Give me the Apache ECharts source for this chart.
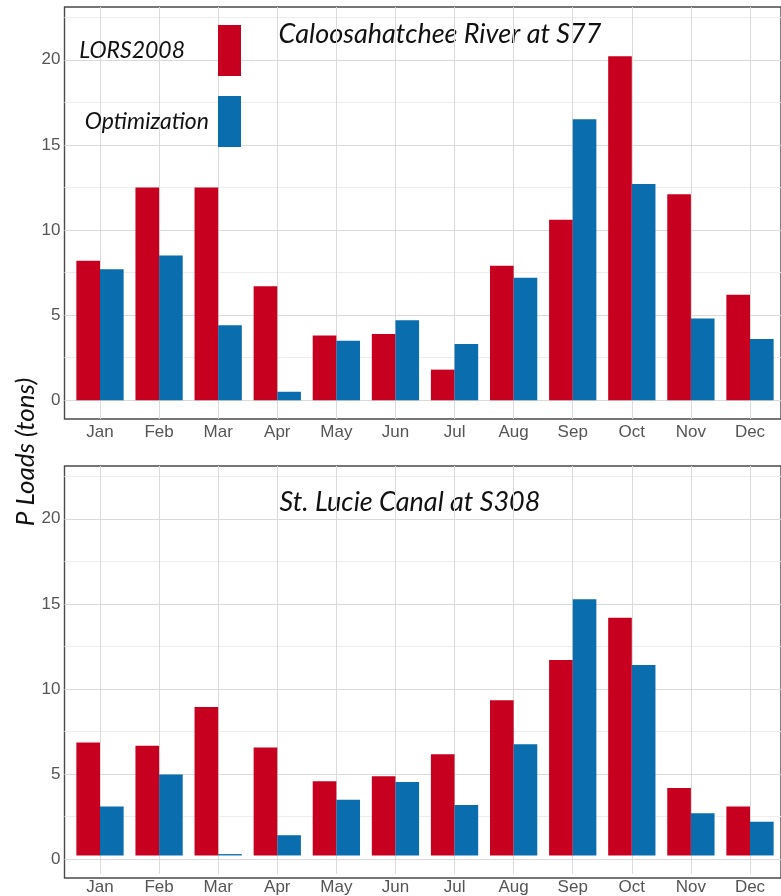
<!DOCTYPE html>
<html>
<head>
<meta charset="utf-8">
<script src="https://cdn.jsdelivr.net/npm/echarts@6/dist/echarts.min.js"></script>
<style>html,body{margin:0;padding:0;background:#fff}#c{width:781px;height:896px}</style>
</head>
<body>
<div id="c"></div>
<script>
// ---- data ----
const months = ['Jan','Feb','Mar','Apr','May','Jun','Jul','Aug','Sep','Oct','Nov','Dec'];
const s77Lors2008 = [8.2, 12.5, 12.5, 6.7, 3.8, 3.9, 1.8, 7.9, 10.6, 20.2, 12.1, 6.2];
const s77Optimization = [7.7, 8.5, 4.4, 0.5, 3.5, 4.7, 3.3, 7.2, 16.5, 12.7, 4.8, 3.6];
const s308Lors2008 = [6.7, 6.5, 8.8, 6.4, 4.4, 4.7, 6.0, 9.2, 11.6, 14.1, 4.0, 2.9];
const s308Optimization = [2.9, 4.8, 0.08, 1.2, 3.3, 4.35, 3.0, 6.6, 15.2, 11.3, 2.5, 2.0];
const yTickLabels = [0, 5, 10, 15, 20];
const seriesNames = ['LORS2008', 'Optimization'];
const panelTitles = ['Caloosahatchee River at S77', 'St. Lucie Canal at S308'];
const yTitle = 'P Loads (tons)';

// ---- styling / layout ----
const RED = '#C8001F', BLUE = '#0A6DAE';
const yLimit = 22, yPad = yLimit * 0.05;         // ggplot-like 5% expansion
const pxPerUnit = 412 / (yLimit + 2 * yPad);
const panels = [{top: 7}, {top: 466}];
const frameLeft = 64.5, frameWidth = 721, frameHeight = 412;
const barLeft = 100, barWidthSpan = 650;
const labelFont = 'Liberation Sans';
const textFont = 'Lato';

const grid = [], xAxis = [], yAxis = [], series = [];
const dataSets = [[s77Lors2008, s77Optimization], [s308Lors2008, s308Optimization]];

panels.forEach((p, i) => {
  const zeroY = p.top + frameHeight - yPad * pxPerUnit;
  const gridTopH = zeroY - 22.5 * pxPerUnit;
  const base = grid.length;
  // frame
  grid.push({left: frameLeft, top: p.top, width: frameWidth, height: frameHeight,
    show: true, borderColor: '#4a4a4a', borderWidth: 1.4, backgroundColor: 'transparent', containLabel: false});
  xAxis.push({gridIndex: base, type: 'value', show: false});
  yAxis.push({gridIndex: base, type: 'value', show: false});
  // horizontal gridlines + y labels
  grid.push({left: frameLeft, top: gridTopH, width: frameWidth, height: 22.5 * pxPerUnit, containLabel: false});
  xAxis.push({gridIndex: base + 1, type: 'value', show: false});
  yAxis.push({gridIndex: base + 1, type: 'value', min: 0, max: 22.5, interval: 2.5,
    axisLine: {show: false}, axisTick: {show: false},
    axisLabel: {color: '#555', fontSize: 17, fontFamily: labelFont, margin: 4,
      formatter: v => (yTickLabels.indexOf(v) >= 0 ? String(v) : '')},
    splitLine: {show: true, lineStyle: {color: ['#dadada', '#ededed'], width: 1}}});
  // bars + vertical gridlines + x labels
  grid.push({left: barLeft, top: p.top, width: barWidthSpan, height: frameHeight, containLabel: false});
  xAxis.push({gridIndex: base + 2, type: 'category', data: months, boundaryGap: false,
    axisLine: {show: false}, axisTick: {show: false},
    axisLabel: {interval: 0, color: '#555', fontSize: 17, fontFamily: labelFont, margin: 5},
    splitLine: {show: true, interval: 0, lineStyle: {color: '#dadada', width: 1}}});
  yAxis.push({gridIndex: base + 2, type: 'value', min: -yPad, max: yLimit + yPad, show: false,
    splitLine: {show: false}});
  [RED, BLUE].forEach((col, j) => {
    series.push({type: 'bar', name: seriesNames[j], xAxisIndex: base + 2, yAxisIndex: base + 2,
      data: dataSets[i][j], barGap: '0%', barCategoryGap: '20%', clip: false,
      itemStyle: {color: col}, emphasis: {disabled: true}, z: 3});
  });
});

const chart = echarts.init(document.getElementById('c'), null, {renderer: 'canvas'});
chart.setOption({
  animation: false,
  backgroundColor: '#fff',
  grid, xAxis, yAxis, series,
  legend: [
    {data: [seriesNames[0]], orient: 'vertical', right: 781 - 241, top: 25, padding: 0,
      itemWidth: 23, itemHeight: 51, align: 'right', icon: 'rect', selectedMode: false,
      textStyle: {fontStyle: 'italic', fontFamily: textFont, fontSize: 23, color: '#111', padding: [12, 28, 0, 0]}},
    {data: [seriesNames[1]], orient: 'vertical', right: 781 - 241, top: 96, padding: 0,
      itemWidth: 23, itemHeight: 51, align: 'right', icon: 'rect', selectedMode: false,
      textStyle: {fontStyle: 'italic', fontFamily: textFont, fontSize: 23, color: '#111', padding: [2, 4, 0, 0]}}
  ],
  graphic: [
    {type: 'text', x: 440, y: 34, style: {text: panelTitles[0], fontSize: 27, fontStyle: 'italic', fontFamily: textFont,
      fill: '#111', align: 'center', verticalAlign: 'middle', textAlign: 'center', textVerticalAlign: 'middle'}},
    {type: 'text', x: 410, y: 502, style: {text: panelTitles[1], fontSize: 27, fontStyle: 'italic', fontFamily: textFont,
      fill: '#111', align: 'center', verticalAlign: 'middle', textAlign: 'center', textVerticalAlign: 'middle'}},
    {type: 'text', x: 26, y: 452, rotation: Math.PI / 2, style: {text: yTitle, fontSize: 26, fontStyle: 'italic', fontFamily: textFont,
      fill: '#111', align: 'center', verticalAlign: 'middle', textAlign: 'center', textVerticalAlign: 'middle'}}
  ]
});
</script>
</body>
</html>
